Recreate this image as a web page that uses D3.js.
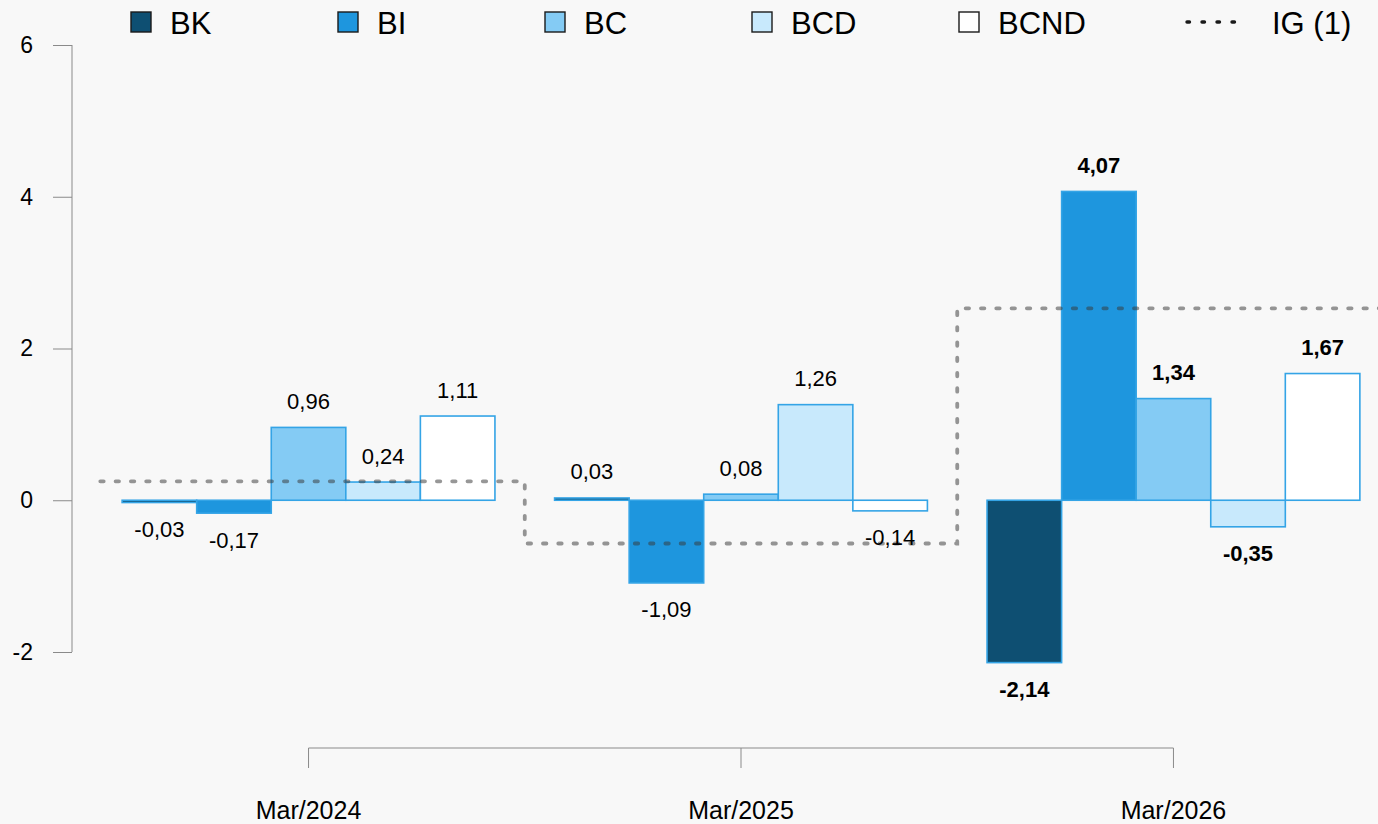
<!DOCTYPE html>
<html>
<head>
<meta charset="utf-8">
<script src="https://cdn.jsdelivr.net/npm/d3@7"></script>
<style>
  html, body { margin: 0; padding: 0; background: #f8f8f8; }
  svg { display: block; font-family: "Liberation Sans", Arial, sans-serif; }
</style>
</head>
<body>
<svg id="chart" width="1378" height="824"></svg>
<script>
// dados
const categories = ["Mar/2024", "Mar/2025", "Mar/2026"];
const seriesNames = ["BK", "BI", "BC", "BCD", "BCND"];
const BK = [-0.03, 0.03, -2.14];
const BI = [-0.17, -1.09, 4.07];
const BC = [0.96, 0.08, 1.34];
const BCD = [0.24, 1.26, -0.35];
const BCND = [1.11, -0.14, 1.67];
const IG = [0.25, -0.57, 2.53];
const yTicks = [-2, 0, 2, 4, 6];
const igLabel = "IG (1)";

const seriesValues = [BK, BI, BC, BCD, BCND];
const colors = ["#0e4f72", "#1e96de", "#84cbf4", "#c8e9fc", "#ffffff"];
const barStroke = "#34a4e6";

const W = 1378, H = 824;
const svg = d3.select("#chart");

const locale = d3.formatLocale({ decimal: ",", thousands: ".", grouping: [3], currency: ["", ""], minus: "-" });
const fmt = locale.format(".2f");
const fmtTick = locale.format("d");

// escalas
const x0 = d3.scaleBand()
  .domain(categories)
  .range([92.3, 1389.7])
  .paddingInner(0.8 / 5.8)
  .paddingOuter(0.4 / 5.8);

const x1 = d3.scaleBand()
  .domain(seriesNames)
  .range([0, x0.bandwidth()])
  .padding(0);

const y = d3.scaleLinear().domain([-2, 6]).range([652, 45]);

// eixo y
const yAxis = svg.append("g")
  .attr("transform", "translate(72,0)")
  .call(d3.axisLeft(y).tickValues(yTicks).tickSize(19).tickPadding(20).tickFormat(fmtTick));
yAxis.select(".domain").attr("stroke", "#8a8a8a").attr("d", `M-0,${y(6)}V${y(-2)}`);
yAxis.selectAll(".tick line").attr("stroke", "#8a8a8a");
yAxis.selectAll(".tick text")
  .attr("fill", "#000")
  .style("font-size", "23px")
  .style("font-family", "Liberation Sans, Arial, sans-serif");

// eixo x (deslocado para baixo)
const xAxis = svg.append("g")
  .attr("transform", "translate(0,748)");
const centers = categories.map(c => x0(c) + x0.bandwidth() / 2);
xAxis.append("line")
  .attr("x1", centers[0]).attr("x2", centers[centers.length - 1])
  .attr("y1", 0).attr("y2", 0)
  .attr("stroke", "#8a8a8a");
xAxis.selectAll("line.tk")
  .data(categories)
  .join("line")
  .attr("class", "tk")
  .attr("x1", d => x0(d) + x0.bandwidth() / 2)
  .attr("x2", d => x0(d) + x0.bandwidth() / 2)
  .attr("y1", 0).attr("y2", 20)
  .attr("stroke", "#8a8a8a");
xAxis.selectAll("text")
  .data(categories)
  .join("text")
  .attr("x", d => x0(d) + x0.bandwidth() / 2)
  .attr("y", 62)
  .attr("text-anchor", "middle")
  .attr("dominant-baseline", "central")
  .attr("font-size", 25)
  .attr("fill", "#000")
  .text(d => d);

// barras
const barData = [];
categories.forEach((c, gi) => {
  seriesNames.forEach((s, si) => {
    barData.push({ cat: c, series: s, value: seriesValues[si][gi], color: colors[si], bold: gi === categories.length - 1 });
  });
});

const bars = svg.append("g");
bars.selectAll("rect")
  .data(barData)
  .join("rect")
  .attr("x", d => x0(d.cat) + x1(d.series))
  .attr("width", x1.bandwidth())
  .attr("y", d => y(Math.max(0, d.value)))
  .attr("height", d => Math.abs(y(d.value) - y(0)))
  .attr("fill", d => d.color)
  .attr("stroke", barStroke)
  .attr("stroke-width", 1.6);

// linha IG em degraus
const igPts = categories.map((c, i) => [x0(c) - x0.step() * x0.paddingInner() / 2, IG[i]]);
igPts.push([x0(categories[categories.length - 1]) + x0.bandwidth() + x0.step() * x0.paddingInner() / 2, IG[IG.length - 1]]);
const igLine = d3.line()
  .x(d => d[0])
  .y(d => y(d[1]))
  .curve(d3.curveStepAfter);
svg.append("path")
  .attr("d", igLine(igPts))
  .attr("fill", "none")
  .attr("stroke", "rgba(55,55,55,0.52)")
  .attr("stroke-width", 3.8)
  .attr("stroke-linecap", "round")
  .attr("stroke-dasharray", "3.4,11.9")
  .attr("stroke-dashoffset", -8);

// rótulos
svg.append("g").selectAll("text")
  .data(barData)
  .join("text")
  .attr("x", d => x0(d.cat) + x1(d.series) + x1.bandwidth() / 2)
  .attr("y", d => d.value >= 0 ? y(d.value) - 26 : y(d.value) + 27)
  .attr("text-anchor", "middle")
  .attr("dominant-baseline", "central")
  .attr("font-size", 22)
  .attr("font-weight", d => d.bold ? "bold" : "normal")
  .attr("fill", "#000")
  .text(d => fmt(d.value));

// legenda
const legend = svg.append("g");
const leg = legend.selectAll("g")
  .data(seriesNames)
  .join("g")
  .attr("transform", (d, i) => `translate(${131 + 207 * i},22)`);
leg.append("rect")
  .attr("x", 0).attr("y", -10)
  .attr("width", 20).attr("height", 20)
  .attr("fill", (d, i) => colors[i])
  .attr("stroke", "#1a1a1a")
  .attr("stroke-width", 1.4);
leg.append("text")
  .attr("x", 39)
  .attr("y", 1)
  .attr("dominant-baseline", "central")
  .attr("font-size", 31)
  .attr("fill", "#000")
  .text(d => d);

const igLeg = legend.append("g").attr("transform", "translate(1186,22)");
igLeg.append("line")
  .attr("x1", 1).attr("x2", 52)
  .attr("y1", 0).attr("y2", 0)
  .attr("stroke", "#1a1a1a")
  .attr("stroke-width", 3.4)
  .attr("stroke-linecap", "round")
  .attr("stroke-dasharray", "2.5,12.5");
igLeg.append("text")
  .attr("x", 86)
  .attr("y", 1)
  .attr("dominant-baseline", "central")
  .attr("font-size", 31)
  .attr("fill", "#000")
  .text(igLabel);
</script>
</body>
</html>
